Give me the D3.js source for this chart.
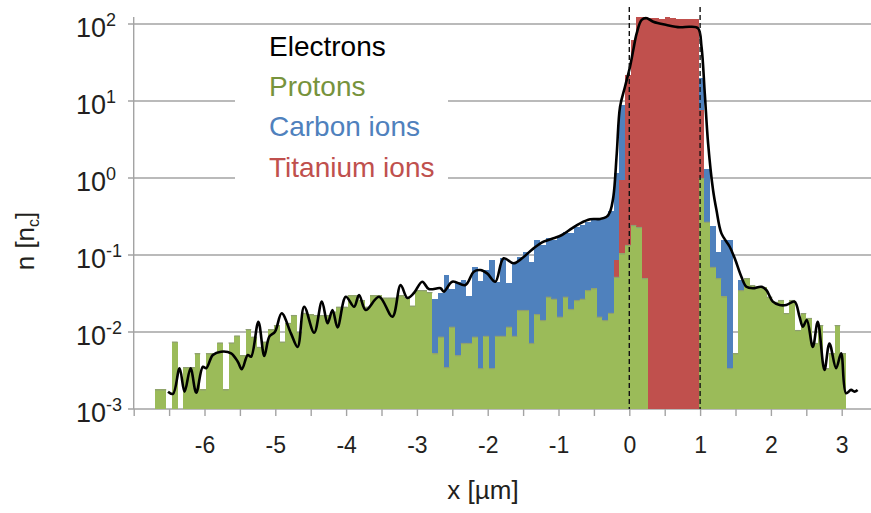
<!DOCTYPE html>
<html>
<head>
<meta charset="utf-8">
<script src="https://cdn.jsdelivr.net/npm/d3@7"></script>
<style>
  body { margin: 0; background: #fff; }
  text { font-family: "Liberation Sans", Arial, sans-serif; }
</style>
</head>
<body>
<svg id="chart" width="871" height="513"></svg>
<script>
// histogram bins: left edge of bin i = binStart + i*binWidth (um)
var binStart = -6.70, binWidth = 0.08;

// density in units of n_c, null = no bar
var protons = [
  1.8e-3, 1.8e-3, null, 7.5e-3, null, 3.5e-3, 3.5e-3, 5.3e-3, 1.8e-3, 5.3e-3,          // 0-9
  5.3e-3, 7.3e-3, 1.8e-3, 7.3e-3, 9.0e-3, 5.0e-3, 1.09e-2, 8.7e-3, 6.4e-3, 7.5e-3,     // 10-19
  1.09e-2, 1.23e-2, 7.5e-3, 1.31e-2, 1.66e-2, 1.0e-2, 1.77e-2, 1.7e-2, 1.66e-2, 1.66e-2, // 20-29
  1.66e-2, 1.84e-2, 2.13e-2, 2.13e-2, 3.0e-2, 3.0e-2, 2.6e-2, 2.13e-2, 3.0e-2, 3.0e-2,  // 30-39
  2.8e-2, 2.8e-2, 2.8e-2, 3.0e-2, 2.85e-2, 2.2e-2, 3.5e-2, 3.5e-2, 3.3e-2, 5.3e-3,     // 40-49
  8.7e-3, 3.5e-3, 1.17e-2, 5.0e-3, 7.2e-3, 7.2e-3, 8.7e-3, 3.4e-3, 8.9e-3, 3.4e-3,     // 50-59
  8.9e-3, 8.9e-3, 1.17e-2, 8.9e-3, 1.93e-2, 1.93e-2, 7.2e-3, 1.71e-2, 1.43e-2, 2.87e-2, // 60-69
  2.7e-2, 1.58e-2, 2.87e-2, 1.99e-2, 2.6e-2, 2.7e-2, 3.5e-2, 3.7e-2, 1.58e-2, 1.43e-2,  // 70-79
  1.77e-2, 5.2e-2, 0.105, 0.135, 0.245, 0.231, 5.0e-2, null, null, null,               // 80-89
  null, null, null, null, null, null, 1.0, 0.27, 7.0e-2, 5.0e-2,                       // 90-99
  2.9e-2, 3.4e-3, 5.3e-3, 3.5e-2, 5.0e-2, 4.07e-2, 3.87e-2, 3.8e-2, 2.87e-2, 2.46e-2,  // 100-109
  2.6e-2, 1.76e-2, 2.6e-2, 1.06e-2, 1.76e-2, 1.52e-2, 7.2e-3, 1.23e-2, 3.4e-3, 5.3e-3,  // 110-119
  1.23e-2, 5.3e-3                                                                     // 120-121
];

var carbon = [
  null, null, null, null, null, null, null, null, null, null,                 // 0-9
  null, null, null, null, null, null, null, null, null, null,                 // 10-19
  null, null, null, null, null, null, null, null, null, null,                 // 20-29
  null, null, null, null, null, null, null, null, null, null,                 // 30-39
  null, null, null, null, null, null, null, null, null, 2.7e-2,               // 40-49
  3.2e-2, 5.5e-2, 3.6e-2, 4.5e-2, 4.7e-2, 2.9e-2, 7.0e-2, 4.6e-2, 6.4e-2, 8.6e-2, // 50-59
  4.5e-2, 9.1e-2, 4.3e-2, 8.1e-2, 9.5e-2, 0.109, 8.2e-2, 0.157, 0.135, 0.166,    // 60-69
  0.157, 0.177, 0.201, 0.193, 0.228, 0.245, 0.271, 0.285, 0.285, 0.303,         // 70-79
  0.373, 1.16, 8.9, null, null, null, null, null, null, null,                   // 80-89
  null, null, null, null, null, null, 20, 1.3, 0.24, 0.11,                      // 90-99
  0.157, 0.157, null, 4.7e-2, null, null, null, null, null, null,               // 100-109
  null, null, null, null, null, null, null, null, null, null,                   // 110-119
  null, null                                                                    // 120-121
];

var titanium = [
  null, null, null, null, null, null, null, null, null, null,   // 0-9
  null, null, null, null, null, null, null, null, null, null,   // 10-19
  null, null, null, null, null, null, null, null, null, null,   // 20-29
  null, null, null, null, null, null, null, null, null, null,   // 30-39
  null, null, null, null, null, null, null, null, null, null,   // 40-49
  null, null, null, null, null, null, null, null, null, null,   // 50-59
  null, null, null, null, null, null, null, null, null, null,   // 60-69
  null, null, null, null, null, null, null, null, null, null,   // 70-79
  null, 8.6e-2, 0.94, 21.8, 62, 123, 123, 120, 118, 115,        // 80-89
  122, 118, 115, 115, 116, 117, 7.6, null, null, null,          // 90-99
  null, null, null, null, null, null, null, null, null, null,   // 100-109
  null, null, null, null, null, null, null, null, null, null,   // 110-119
  null, null                                                    // 120-121
];

// electron density curve
var electronX = [
  -6.515, -6.445, -6.352, -6.282, -6.197, -6.117, -6.023, -5.976, -5.882, -5.765,
  -5.624, -5.530, -5.473, -5.389, -5.342, -5.239, -5.155, -5.085, -5.004, -4.910,
  -4.779, -4.685, -4.592, -4.451, -4.342, -4.262, -4.192, -4.121, -4.004, -3.887,
  -3.817, -3.723, -3.535, -3.346, -3.230, -3.135, -3.042, -2.924, -2.831, -2.666,
  -2.620, -2.501, -2.314, -2.197, -2.103, -2.008, -1.892, -1.775, -1.634, -1.515,
  -1.352, -1.211, -1.070, -0.952, -0.811, -0.694, -0.553, -0.413, -0.318, -0.272,
  -0.225, -0.177, -0.131, -0.061, 0.010, 0.056, 0.104, 0.175, 0.245, 0.338,
  0.527, 0.714, 0.855, 0.972, 1.020, 1.066, 1.113, 1.183, 1.231, 1.301,
  1.418, 1.489, 1.583, 1.654, 1.746, 1.865, 1.935, 2.028, 2.123, 2.217,
  2.334, 2.404, 2.451, 2.507, 2.592, 2.662, 2.756, 2.827, 2.921, 2.992,
  3.062, 3.132, 3.179, 3.225
];
var electronN = [
  1.68e-3, 1.57e-3, 3.38e-3, 1.68e-3, 3.38e-3, 1.63e-3, 3.54e-3, 3.38e-3, 5.03e-3, 5.55e-3,
  5.29e-3, 4.11e-3, 3.28e-3, 5.03e-3, 4.77e-3, 1.36e-2, 4.88e-3, 8.7e-3, 1.01e-2, 1.75e-2,
  9.6e-3, 6.4e-3, 2.13e-2, 9.8e-3, 2.48e-2, 1.30e-2, 1.93e-2, 1.15e-2, 2.87e-2, 2.13e-2,
  3.03e-2, 1.93e-2, 2.87e-2, 1.58e-2, 4.07e-2, 2.77e-2, 3.21e-2, 4.50e-2, 3.61e-2, 3.70e-2,
  3.34e-2, 4.50e-2, 4.07e-2, 6.07e-2, 6.38e-2, 5.78e-2, 4.50e-2, 9.06e-2, 7.80e-2, 9.06e-2,
  0.122, 0.149, 0.165, 0.182, 0.222, 0.258, 0.291, 0.294, 0.314, 0.365,
  0.571, 2.09, 8.4, 15.3, 27.9, 45.9, 75.6, 113, 119, 107,
  97, 90.6, 92.2, 87.9, 50.7, 12.6, 2.82, 0.698, 0.384, 0.191,
  0.128, 9.06e-2, 5.22e-2, 3.87e-2, 3.70e-2, 3.87e-2, 3.51e-2, 2.48e-2, 2.24e-2, 2.24e-2,
  2.48e-2, 1.58e-2, 1.17e-2, 1.43e-2, 6.4e-3, 1.36e-2, 3.21e-3, 7.1e-3, 3.38e-3, 5.29e-3,
  1.60e-3, 1.77e-3, 1.68e-3, 1.77e-3
];

var yExponents = [-3, -2, -1, 0, 1, 2];
var targetEdges = [0, 1];
var legendNames = ["Electrons", "Protons", "Carbon ions", "Titanium ions"];
var legendColors = ["#000000", "#77933c", "#4f81bd", "#c0504d"];

var svg = d3.select("#chart");
var x = d3.scaleLinear().domain([-7, 3.5]).range([133.7, 877.1]);
var y = d3.scaleLog().domain([1e-3, 1e2]).range([409, 24]);
var gridColor = "#a3a3a3";

// gridlines
svg.append("g").selectAll("line")
  .data(yExponents)
  .enter().append("line")
  .attr("x1", 128).attr("x2", 871)
  .attr("y1", function(e){ return y(Math.pow(10, e)); })
  .attr("y2", function(e){ return y(Math.pow(10, e)); })
  .attr("stroke", gridColor).attr("stroke-width", 1.4);

// legend box covers the grid
svg.append("rect").attr("x", 235).attr("y", 30).attr("width", 213).attr("height", 158).attr("fill", "#fff");

// vertical axis line
svg.append("line").attr("x1", x(-7)).attr("x2", x(-7)).attr("y1", 17).attr("y2", 409)
  .attr("stroke", gridColor).attr("stroke-width", 1.4);

// x axis ticks every 0.5, labels on integers
var xAxis = d3.axisBottom(x)
  .tickValues(d3.range(-7, 3.51, 0.5))
  .tickSize(7).tickPadding(21)
  .tickFormat(function(d){ return Number.isInteger(d) && d > -7 ? String(d) : ""; });
var gx = svg.append("g").attr("transform", "translate(0,409)").call(xAxis);
gx.select(".domain").remove();
gx.selectAll(".tick line").attr("stroke", gridColor).attr("stroke-width", 1.4);
gx.selectAll(".tick text").attr("font-size", 23).attr("fill", "#231f20")
  .style("font-family", "'Liberation Sans', Arial, sans-serif");

// y tick labels 10^e
var ylab = svg.append("g").selectAll("text")
  .data(yExponents)
  .enter().append("text")
  .attr("x", 76)
  .attr("y", function(e){ return y(Math.pow(10, e)) + 13; })
  .attr("font-size", 27).attr("fill", "#231f20");
ylab.append("tspan").text("10");
ylab.append("tspan").attr("font-size", 18).attr("dy", -11).text(function(e){ return String(e); });

function drawBars(values, color, edge){
  var items = values.map(function(v, i){ return {i: i, v: v}; })
    .filter(function(d){ return d.v != null; });
  var g = svg.append("g");
  g.selectAll("rect")
    .data(items)
    .enter().append("rect")
    .attr("x", function(d){ return x(binStart + d.i * binWidth); })
    .attr("width", function(d){ return x(binStart + (d.i + 1) * binWidth) - x(binStart + d.i * binWidth); })
    .attr("y", function(d){ return y(d.v); })
    .attr("height", function(d){ return y(1e-3) - y(d.v); })
    .attr("fill", color)
    .attr("shape-rendering", "crispEdges");
  if (edge){
    // thin greyish cap on each bar, as in the original bitmap
    g.selectAll("line")
      .data(items)
      .enter().append("line")
      .attr("x1", function(d){ return x(binStart + d.i * binWidth); })
      .attr("x2", function(d){ return x(binStart + (d.i + 1) * binWidth); })
      .attr("y1", function(d){ return y(d.v) + 0.5; })
      .attr("y2", function(d){ return y(d.v) + 0.5; })
      .attr("stroke", edge).attr("stroke-width", 1.2);
  }
}
drawBars(carbon, "#4f81bd");
drawBars(titanium, "#c0504d");
drawBars(protons, "#9bbb59", "#8e9e72");

// electrons
var line = d3.line()
  .x(function(d){ return x(d[0]); })
  .y(function(d){ return y(d[1]); })
  .curve(d3.curveCatmullRom.alpha(0.5));
svg.append("path")
  .datum(electronX.map(function(v, i){ return [v, electronN[i]]; }))
  .attr("d", line)
  .attr("fill", "none").attr("stroke", "#000").attr("stroke-width", 2.6)
  .attr("stroke-linejoin", "round");

// target front / rear surfaces
svg.append("g").selectAll("line")
  .data(targetEdges)
  .enter().append("line")
  .attr("x1", function(d){ return x(d); }).attr("x2", function(d){ return x(d); })
  .attr("y1", 7).attr("y2", 409)
  .attr("stroke", "#111").attr("stroke-width", 1.4).attr("stroke-dasharray", "5,3");

// legend
svg.append("g").selectAll("text")
  .data(legendNames)
  .enter().append("text")
  .attr("x", 269)
  .attr("y", function(d, i){ return 56 + i * 40.2; })
  .attr("font-size", 28)
  .attr("fill", function(d, i){ return legendColors[i]; })
  .text(function(d){ return d; });

// axis titles
var yt = svg.append("text")
  .attr("transform", "translate(33.5,241) rotate(-90)")
  .attr("text-anchor", "middle").attr("font-size", 26).attr("fill", "#231f20");
yt.append("tspan").text("n [n");
yt.append("tspan").attr("font-size", 16).attr("dy", 5).text("c");
yt.append("tspan").attr("dy", -5).text("]");

svg.append("text").attr("x", 483).attr("y", 499)
  .attr("text-anchor", "middle").attr("font-size", 26).attr("fill", "#231f20")
  .text("x [\u00b5m]");
</script>
</body>
</html>
